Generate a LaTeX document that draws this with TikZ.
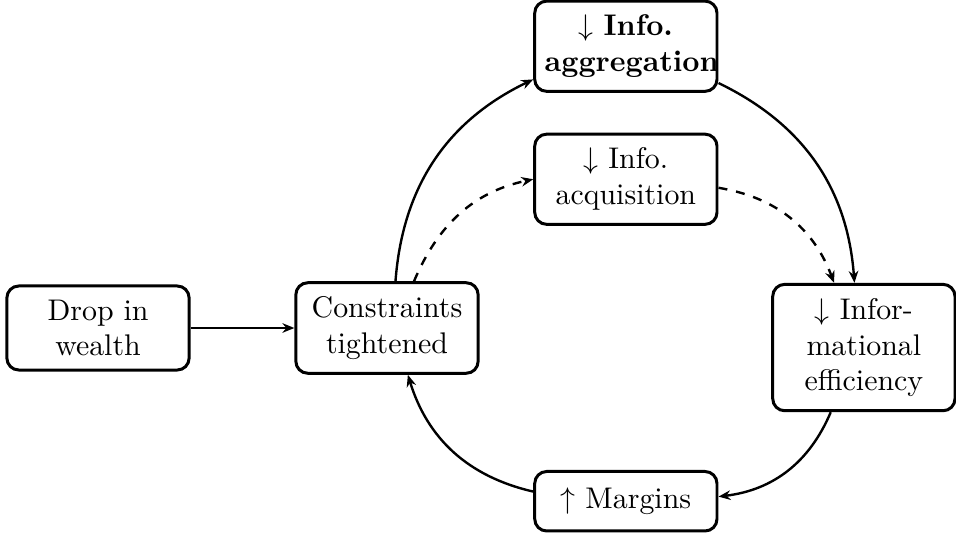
\documentclass[tikz,border=0pt]{standalone}
\usepackage{amsmath}
\usepackage{tikz}
\usetikzlibrary{arrows.meta, positioning, shapes.misc}

\begin{document}
\begin{tikzpicture}[node distance=3.4cm]

% Define block styles
\tikzstyle{box} = [rectangle, rounded corners, minimum height=0.7cm, text width=1.91cm, inner ysep=4.6pt, text centered, draw=black, line width=1pt]
\tikzstyle{arrow} = [thick,->,>={Stealth[length=4pt,width=3.2pt]}]
\tikzstyle{dasharrow} = [arrow, dashed]

\useasboundingbox (0,0) rectangle (11.247,6.341);

% Nodes
\node (drop) [box] at (1.153,2.482) {Drop in wealth};
\node (constraints) [box, right of=drop] {Constraints tightened};
\node (acquisition) [box, right of=constraints, xshift=-0.59cm, yshift=1.75cm] {$\downarrow$ Info. acquisition};
\node (aggregation) [box, above of=acquisition, yshift=-1.835cm] {$\downarrow$ \textbf{Info.}\\\textbf{aggregation}};
\node (efficiency) [box, right of=constraints, xshift=2.21cm, yshift=-0.23cm] {$\downarrow$ Informational efficiency};
\node (margins) [box, below of=acquisition, yshift=-0.388cm] {$\uparrow$ Margins};

% Arrows
\draw [arrow] (drop) -- (constraints);
\draw [arrow] (constraints) to[bend left=30] (aggregation);
\draw [dasharrow] (constraints.60) to[out=67, in=192] (acquisition.west);
\draw [arrow] (aggregation) to[bend left=30] (efficiency);
\draw [dasharrow] (acquisition) to[bend left=30] (efficiency);
\draw [arrow] (efficiency) to[bend left=30] (margins);
\draw [arrow] (margins) to[bend left=30] (constraints);

\end{tikzpicture}
\end{document}
